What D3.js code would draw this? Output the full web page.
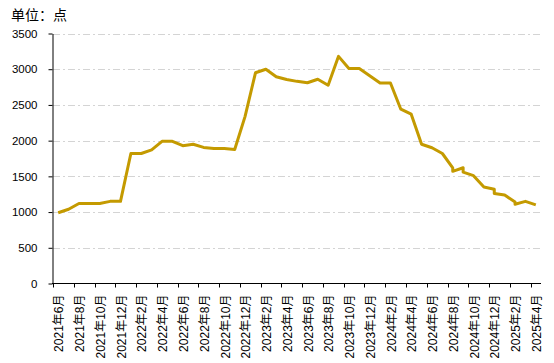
<!DOCTYPE html>
<html>
<head>
<meta charset="utf-8">
<script src="https://cdn.jsdelivr.net/npm/d3@7"></script>
<style>
  body { margin: 0; background: #fff; }
  text { font-family: "Liberation Sans", "Noto Sans CJK SC", sans-serif; fill: #000; }
</style>
</head>
<body>
<script>
// monthly categories on the x axis
var months = ["2021年6月","2021年7月","2021年8月","2021年9月","2021年10月","2021年11月","2021年12月",
  "2022年1月","2022年2月","2022年3月","2022年4月","2022年5月","2022年6月","2022年7月","2022年8月",
  "2022年9月","2022年10月","2022年11月","2022年12月","2023年1月","2023年2月","2023年3月","2023年4月",
  "2023年5月","2023年6月","2023年7月","2023年8月","2023年9月","2023年10月","2023年11月","2023年12月",
  "2024年1月","2024年2月","2024年3月","2024年4月","2024年5月","2024年6月","2024年7月","2024年8月",
  "2024年9月","2024年10月","2024年11月","2024年12月","2025年1月","2025年2月","2025年3月","2025年4月"];

// month of each observation (some months have two readings)
var pointMonths = ["2021年6月","2021年7月","2021年8月","2021年9月","2021年10月","2021年11月","2021年12月",
  "2022年1月","2022年2月","2022年3月","2022年4月","2022年5月","2022年6月","2022年7月","2022年8月",
  "2022年9月","2022年10月","2022年11月","2022年12月","2023年1月","2023年2月","2023年3月","2023年4月",
  "2023年5月","2023年6月","2023年7月","2023年8月","2023年9月","2023年10月","2023年11月","2023年12月",
  "2024年1月","2024年2月","2024年3月","2024年4月","2024年5月","2024年6月","2024年7月",
  "2024年8月","2024年8月","2024年9月","2024年9月","2024年10月","2024年11月",
  "2024年12月","2024年12月","2025年1月","2025年2月","2025年2月","2025年3月","2025年4月"];

var values = [990,1040,1120,1120,1120,1150,1150,
  1820,1820,1870,1990,1990,1930,1950,1905,
  1890,1890,1875,2340,2950,3000,2895,2855,
  2830,2810,2860,2775,3180,3010,3010,2910,
  2808,2808,2440,2370,1950,1900,1820,
  1620,1570,1620,1560,1510,1350,
  1320,1260,1240,1140,1110,1150,1100];

var yTicks = [0,500,1000,1500,2000,2500,3000,3500];

var width = 554;
var height = 363;
var plotLeft = 53, plotRight = 541, plotTop = 33.5, plotBottom = 283.5;

var svg = d3.select("body").append("svg")
    .attr("width", width)
    .attr("height", height);

var x = d3.scaleBand().domain(months).range([plotLeft, plotRight]).padding(0);
var y = d3.scaleLinear().domain([0, 3500]).range([plotBottom, plotTop]);

// title
svg.append("text")
    .attr("x", 11)
    .attr("y", 20)
    .style("font-size", "14px")
    .text("单位：点");

// grid
svg.append("g").selectAll("line")
    .data(yTicks.filter(function(d){ return d > 0; }))
  .enter().append("line")
    .attr("x1", plotLeft)
    .attr("x2", plotRight)
    .attr("y1", function(d){ return Math.round(y(d)) + 0.5; })
    .attr("y2", function(d){ return Math.round(y(d)) + 0.5; })
    .attr("stroke", "#d4d4d4")
    .attr("stroke-dasharray", "7,3,2,3");

// y axis
var yAxis = svg.append("g")
    .attr("transform", "translate(" + (plotLeft - 0.5) + ",0)")
    .call(d3.axisLeft(y).tickValues(yTicks).tickFormat(d3.format("d"))
      .tickSize(4).tickPadding(11).tickSizeOuter(0));
yAxis.select(".domain").attr("stroke", "#000");
yAxis.selectAll(".tick line").attr("stroke", "#000");
yAxis.selectAll("text").style("font-size", "11.5px");

// x axis
var xg = svg.append("g");
xg.append("line")
    .attr("x1", plotLeft - 1)
    .attr("x2", plotRight)
    .attr("y1", plotBottom)
    .attr("y2", plotBottom)
    .attr("stroke", "#000");

var shown = months.filter(function(d, i){ return i % 2 === 0; });

xg.selectAll(".xtick")
    .data(shown)
  .enter().append("line")
    .attr("class", "xtick")
    .attr("x1", function(d){ return Math.round(x(d)) + 0.5; })
    .attr("x2", function(d){ return Math.round(x(d)) + 0.5; })
    .attr("y1", plotBottom)
    .attr("y2", plotBottom + 4)
    .attr("stroke", "#000");

xg.selectAll(".xlabel")
    .data(shown)
  .enter().append("text")
    .attr("class", "xlabel")
    .attr("transform", function(d){
      return "translate(" + (x(d) + x.bandwidth() / 2 + 1) + "," + (plotBottom + 11) + ") rotate(-90)";
    })
    .attr("text-anchor", "end")
    .attr("dy", "0.35em")
    .style("font-size", "12px")
    .text(function(d){ return d; });

// line
var pts = values.map(function(v, i){ return {m: pointMonths[i], v: v}; });

var line = d3.line()
    .x(function(d){ return x(d.m) + x.bandwidth() / 2; })
    .y(function(d){ return y(d.v); });

svg.append("path")
    .datum(pts)
    .attr("fill", "none")
    .attr("stroke", "#C49A00")
    .attr("stroke-width", 3)
    .attr("stroke-linejoin", "round")
    .attr("d", line);
</script>
</body>
</html>
